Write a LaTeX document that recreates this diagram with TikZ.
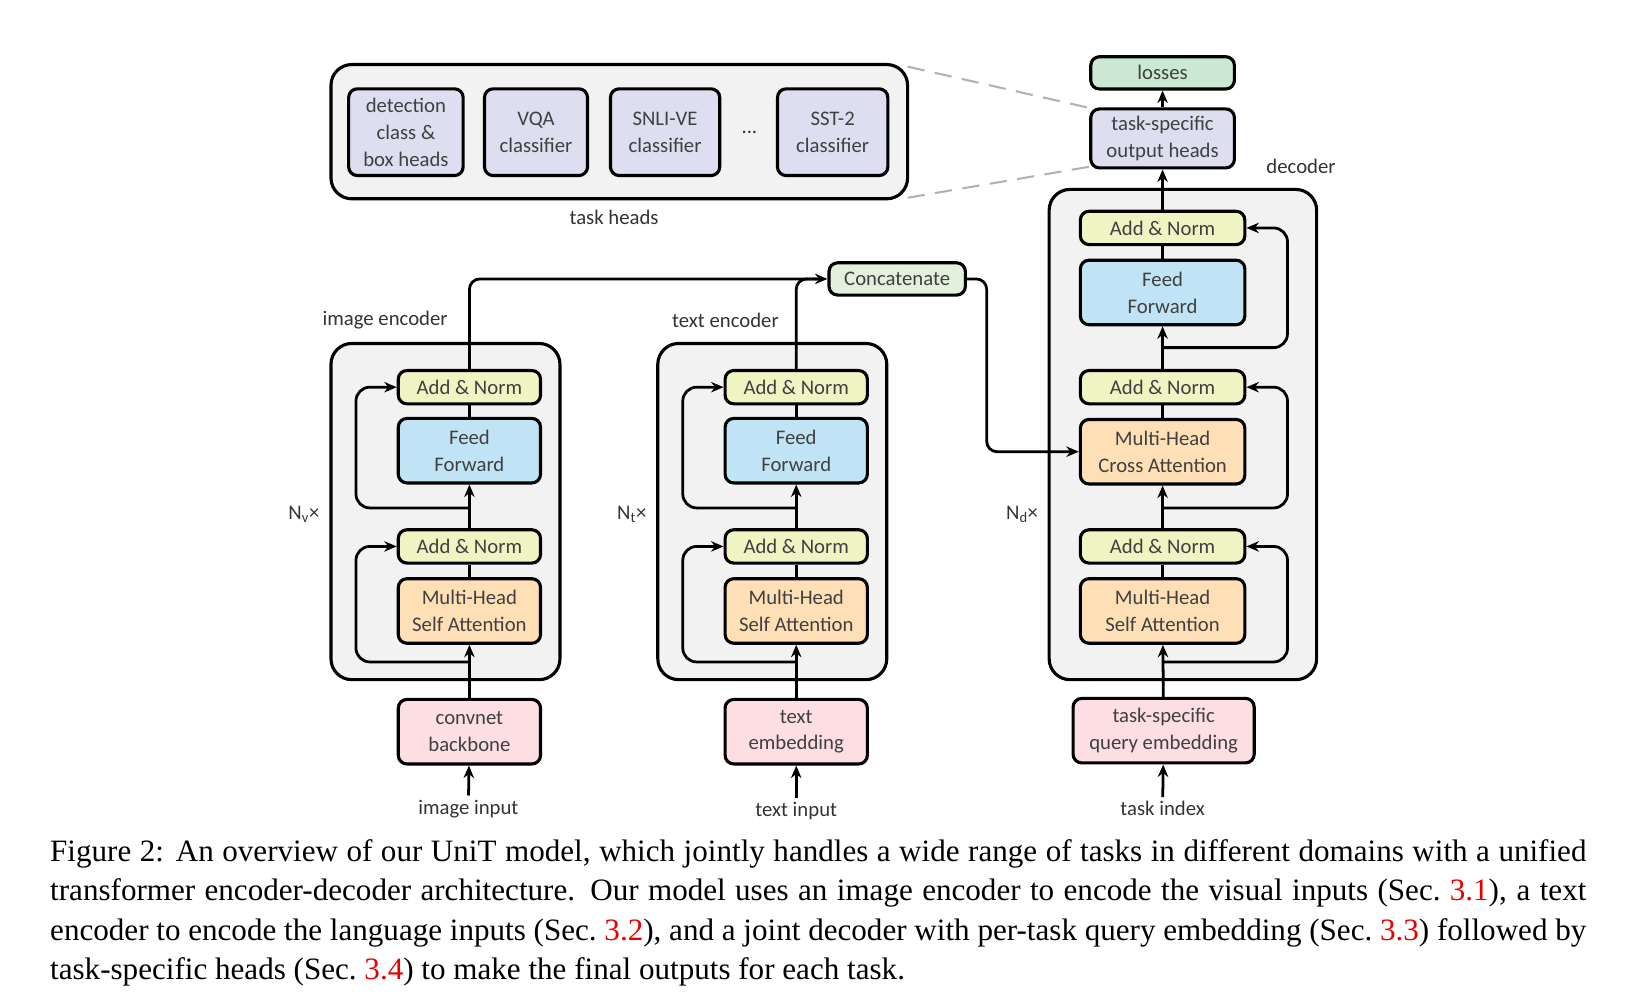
\documentclass[tikz,border=0pt]{standalone}
\usepackage{fontspec}
\setmainfont{Liberation Serif}
\newfontfamily\boxfont{Carlito}
\usetikzlibrary{positioning,arrows.meta}
\definecolor{cAdd}{RGB}{240,244,195}
\definecolor{cFF}{RGB}{192,228,245}
\definecolor{cAtt}{RGB}{255,224,182}
\definecolor{cIn}{RGB}{252,222,227}
\definecolor{cHead}{RGB}{221,223,241}
\definecolor{cLoss}{RGB}{202,232,210}
\definecolor{cCat}{RGB}{226,240,221}
\definecolor{cGroup}{RGB}{242,242,242}
\definecolor{cTxt}{RGB}{64,64,64}
\definecolor{refred}{RGB}{230,0,0}
\begin{document}
\begin{tikzpicture}[x=0.3mm, y=-0.3mm,
blk/.style={draw, rounded corners=2.5mm, line width=0.9mm, align=center, text=cTxt, font=\boxfont\fontsize{17}{22}\selectfont, inner sep=0pt},
thin/.style={blk, minimum width=41mm, minimum height=9.6mm},
tall/.style={blk, minimum width=41mm, minimum height=18.6mm},
group/.style={draw, fill=cGroup, rounded corners=6mm, line width=0.9mm},
lbl/.style={text=black!80, font=\boxfont\fontsize{17}{22}\selectfont},
arr/.style={line width=0.8mm, -{Stealth[length=3.6mm, width=3mm]}},
ln/.style={line width=0.8mm},
]
\useasboundingbox (0,0) rectangle (1568,963);
%Groups
\draw[group] (318,62) rectangle (872,191);
\draw[group] (318,330) rectangle (538,653);
\draw[group] (632,330) rectangle (852,653);
\draw[group] (1008,182) rectangle (1265,653);
\draw[gray!60, line width=0.6mm, dash pattern=on 5mm off 3mm] (872,64) -- (1048,104);
\draw[gray!60, line width=0.6mm, dash pattern=on 5mm off 3mm] (872,190) -- (1048,160);
%Task heads
\node[blk, fill=cHead, minimum width=33mm, minimum height=25mm] (det) at (390,127) {detection\\class \&\\box heads};
\node[blk, fill=cHead, minimum width=29.7mm, minimum height=25mm] (vqa) at (515,127) {VQA\\classifier};
\node[blk, fill=cHead, minimum width=31.5mm, minimum height=25mm] (snli) at (639,127) {SNLI-VE\\classifier};
\node[lbl] (dots) at (720,127) {...};
\node[blk, fill=cHead, minimum width=31.8mm, minimum height=25mm] (sst) at (800,127) {SST-2\\classifier};
\node[lbl] (heads) at (590,209) {task heads};
%Image encoder
\node[thin, fill=cAdd] (iAdd2) at (451,372) {Add \& Norm};
\node[tall, fill=cFF] (iFF) at (451,433) {Feed\\Forward};
\node[thin, fill=cAdd] (iAdd1) at (451,525) {Add \& Norm};
\node[tall, fill=cAtt] (iAtt) at (451,587) {Multi-Head\\Self Attention};
\node[tall, fill=cIn] (iIn) at (451,703) {convnet\\backbone};
\node[lbl] (iInput) at (450,777) {image input};
\node[lbl] (iLbl) at (370,308) {image encoder};
\node[lbl] (iN) at (292,494) {N\textsubscript{v}×};
%Text encoder
\node[thin, fill=cAdd] (tAdd2) at (765,372) {Add \& Norm};
\node[tall, fill=cFF] (tFF) at (765,433) {Feed\\Forward};
\node[thin, fill=cAdd] (tAdd1) at (765,525) {Add \& Norm};
\node[tall, fill=cAtt] (tAtt) at (765,587) {Multi-Head\\Self Attention};
\node[tall, fill=cIn] (tIn) at (765,703) {text\\embedding};
\node[lbl] (tInput) at (765,779) {text input};
\node[lbl] (tLbl) at (697,308) {text encoder};
\node[lbl] (tN) at (607,494) {N\textsubscript{t}×};
\node[blk, fill=cCat, minimum width=39.3mm, minimum height=9.3mm] (cat) at (862,268) {Concatenate};
%Decoder
\node[thin, fill=cAdd, minimum width=47.4mm] (dAdd3) at (1117,219) {Add \& Norm};
\node[tall, fill=cFF, minimum width=47.4mm] (dFF) at (1117,281) {Feed\\Forward};
\node[thin, fill=cAdd, minimum width=47.4mm] (dAdd2) at (1117,372) {Add \& Norm};
\node[tall, fill=cAtt, minimum width=47.4mm] (dCross) at (1117,434) {Multi-Head\\Cross Attention};
\node[thin, fill=cAdd, minimum width=47.4mm] (dAdd1) at (1117,525) {Add \& Norm};
\node[tall, fill=cAtt, minimum width=47.4mm] (dAtt) at (1117,587) {Multi-Head\\Self Attention};
\node[tall, fill=cIn, minimum width=52.2mm] (dIn) at (1118,702) {task-specific\\query embedding};
\node[lbl] (dInput) at (1117,777) {task index};
\node[lbl] (dLbl) at (1250,160) {decoder};
\node[lbl] (dN) at (982,494) {N\textsubscript{d}×};
\node[blk, fill=cHead, minimum width=41.4mm, minimum height=17mm] (out) at (1117,133) {task-specific\\output heads};
\node[blk, fill=cLoss, minimum width=41.4mm, minimum height=9.3mm] (loss) at (1117,70) {losses};
%Lines image encoder
\draw[arr] (iInput) -- (iIn);
\draw[arr] (iIn) -- (iAtt);
\draw[ln] (iAtt) -- (iAdd1);
\draw[arr] (iAdd1) -- (iFF);
\draw[ln] (iFF) -- (iAdd2);
\draw[arr, rounded corners=4mm] (451,636) -- (342,636) -- (342,525) -- (iAdd1.west);
\draw[arr, rounded corners=4mm] (451,488) -- (342,488) -- (342,372) -- (iAdd2.west);
\draw[arr, rounded corners=3mm] (iAdd2) -- (451,268) -- (cat.west);
%Lines text encoder
\draw[arr] (tInput) -- (tIn);
\draw[arr] (tIn) -- (tAtt);
\draw[ln] (tAtt) -- (tAdd1);
\draw[arr] (tAdd1) -- (tFF);
\draw[ln] (tFF) -- (tAdd2);
\draw[arr, rounded corners=4mm] (765,636) -- (656,636) -- (656,525) -- (tAdd1.west);
\draw[arr, rounded corners=4mm] (765,488) -- (656,488) -- (656,372) -- (tAdd2.west);
\draw[ln, rounded corners=3mm] (tAdd2) -- (765,268) -- (785,268);
\draw[arr, rounded corners=3mm] (cat.east) -- (948,268) -- (948,434) -- (dCross.west);
%Lines decoder
\draw[arr] (dInput) -- (dIn);
\draw[arr] (dIn) -- (dAtt);
\draw[ln] (dAtt) -- (dAdd1);
\draw[arr] (dAdd1) -- (dCross);
\draw[ln] (dCross) -- (dAdd2);
\draw[arr] (dAdd2) -- (dFF);
\draw[ln] (dFF) -- (dAdd3);
\draw[arr, rounded corners=4mm] (1117,636) -- (1237,636) -- (1237,525) -- (dAdd1.east);
\draw[arr, rounded corners=4mm] (1117,488) -- (1237,488) -- (1237,372) -- (dAdd2.east);
\draw[arr, rounded corners=4mm] (1117,334) -- (1237,334) -- (1237,219) -- (dAdd3.east);
\draw[arr] (dAdd3) -- (out);
\draw[arr] (out) -- (loss);
%Caption
\node[anchor=north west, inner sep=0pt, text width=442.8mm, align=justify, font=\fontsize{25.5}{32.4}\selectfont] (caption) at (48,806) {Figure 2: An overview of our UniT model, which jointly handles a wide range of tasks in different domains with a unified transformer encoder-decoder architecture. Our model uses an image encoder to encode the visual inputs (Sec.~\textcolor{refred}{3.1}), a text encoder to encode the language inputs (Sec.~\textcolor{refred}{3.2}), and a joint decoder with per-task query embedding (Sec.~\textcolor{refred}{3.3}) followed by task-specific heads (Sec.~\textcolor{refred}{3.4}) to make the final outputs for each task.};
\end{tikzpicture}
\end{document}
